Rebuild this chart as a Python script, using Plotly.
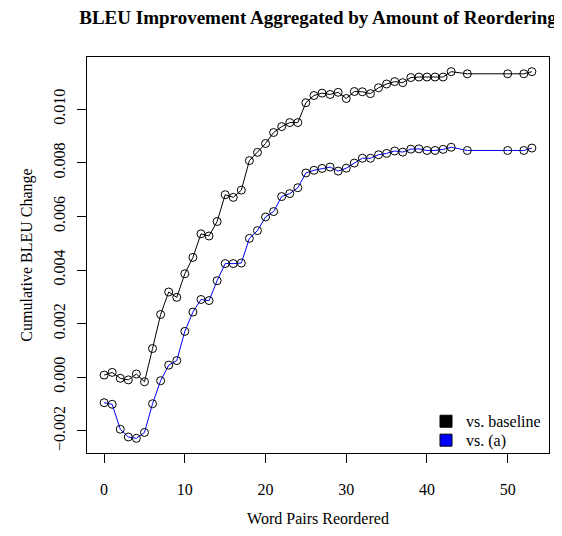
import plotly.graph_objects as go

# Word pairs reordered (x values)
word_pairs = list(range(0, 44)) + [45, 50, 52, 53]

# Cumulative BLEU change vs. baseline
vs_baseline = [
    0.00008, 0.00018, -0.00004, -0.00010, 0.00012, -0.00017, 0.00107, 0.00234,
    0.00318, 0.00298, 0.00386, 0.00447, 0.00535, 0.00527, 0.00581, 0.00681,
    0.00671, 0.00698, 0.00808, 0.00839, 0.00872, 0.00913, 0.00935, 0.00950,
    0.00950, 0.01024, 0.01051, 0.01060, 0.01055, 0.01063, 0.01040, 0.01066,
    0.01065, 0.01058, 0.01080, 0.01094, 0.01103, 0.01099, 0.01118, 0.01120,
    0.01120, 0.01120, 0.01120, 0.01140, 0.01132, 0.01132, 0.01132, 0.01140,
]

# Cumulative BLEU change vs. (a)
vs_a = [
    -0.00095, -0.00101, -0.00194, -0.00223, -0.00228, -0.00206, -0.00099, -0.00013,
    0.00045, 0.00062, 0.00171, 0.00243, 0.00290, 0.00286, 0.00360, 0.00424,
    0.00424, 0.00426, 0.00518, 0.00547, 0.00598, 0.00618, 0.00674, 0.00685,
    0.00707, 0.00762, 0.00772, 0.00779, 0.00784, 0.00769, 0.00780, 0.00799,
    0.00817, 0.00817, 0.00830, 0.00835, 0.00844, 0.00840, 0.00851, 0.00852,
    0.00846, 0.00846, 0.00850, 0.00858, 0.00846, 0.00846, 0.00846, 0.00855,
]

x_ticks = [0, 10, 20, 30, 40, 50]
y_ticks = [-0.002, 0.000, 0.002, 0.004, 0.006, 0.008, 0.010]

series_names = ["vs. baseline", "vs. (a)"]
series_colors = ["black", "blue"]

FONT = "Liberation Serif, Times New Roman, serif"

# page has an 8px body margin; figure is sized to fit the window
W, H = 554, 528
ML, MR, MT, MB = 79, 13, 49, 75


def padded(lo, hi, frac=0.04):
    d = (hi - lo) * frac
    return [lo - d, hi + d]


fig = go.Figure()

for ys, col in zip([vs_baseline, vs_a], series_colors):
    fig.add_trace(go.Scatter(
        x=word_pairs, y=ys, mode="lines+markers",
        line=dict(color=col, width=1),
        marker=dict(symbol="circle-open", size=8, color="black", line=dict(width=1)),
        showlegend=False,
    ))

legend_ids = ["legend", "legend2"]
for name, col, lid in zip(series_names, series_colors, legend_ids):
    fig.add_trace(go.Scatter(
        x=[None], y=[None], mode="markers", name=name, legend=lid,
        marker=dict(symbol="square", size=12, color=col, line=dict(color="black", width=1)),
    ))

ally = vs_baseline + vs_a

plot_w = W - ML - MR
plot_h = H - MT - MB


def px_x(fx):
    return (fx - ML) / plot_w


def px_y(fy):
    return (H - MB - fy) / plot_h


leg_common = dict(
    xanchor="left", yanchor="middle",
    bgcolor="rgba(0,0,0,0)", borderwidth=0,
    font=dict(family=FONT, size=16, color="black"),
    itemwidth=30,
)

fig.update_layout(
    width=W, height=H,
    margin=dict(l=ML, r=MR, t=MT, b=MB),
    paper_bgcolor="white", plot_bgcolor="white",
    font=dict(family=FONT, size=16, color="black"),
    title=dict(
        text="<b>BLEU Improvement Aggregated by Amount of Reordering</b>",
        x=(ML + plot_w / 2) / W, xanchor="center",
        y=1 - 9 / H, yanchor="middle",
        font=dict(family=FONT, size=19, color="black"),
    ),
    legend=dict(x=px_x(418), y=px_y(420.7), **leg_common),
    legend2=dict(x=px_x(418), y=px_y(440), **leg_common),
)

fig.update_xaxes(
    range=padded(min(word_pairs), max(word_pairs)),
    tickvals=x_ticks, ticktext=[str(v) for v in x_ticks],
    ticks="outside", ticklen=9, tickwidth=1, tickcolor="black",
    showline=True, linecolor="black", linewidth=1, mirror=True,
    showgrid=False, zeroline=False,
    ticklabelstandoff=13,
    title=dict(text="Word Pairs Reordered", standoff=15, font=dict(size=16)),
)

fig.update_yaxes(
    range=padded(min(ally), max(ally)),
    tickvals=y_ticks, tickformat=".3f",
    tickangle=-90,
    ticks="outside", ticklen=9, tickwidth=1, tickcolor="black",
    showline=True, linecolor="black", linewidth=1, mirror=True,
    showgrid=False, zeroline=False,
    ticklabelstandoff=6,
    title=dict(text="Cumulative BLEU Change", standoff=13, font=dict(size=16)),
)

fig.write_html("out.html")
